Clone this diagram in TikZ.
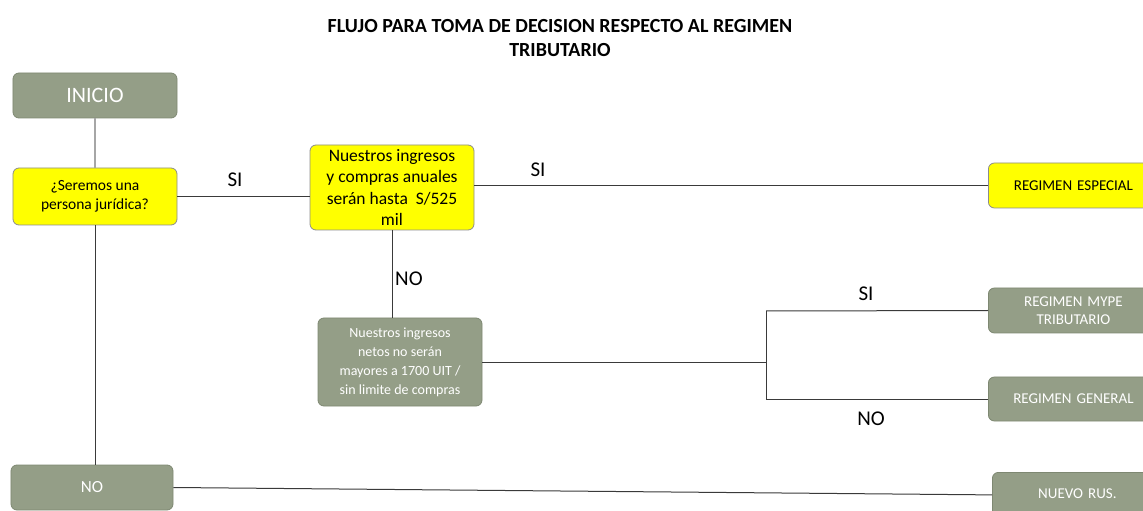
\documentclass[tikz,border=0pt]{standalone}
\usepackage{fontspec}
\setmainfont{Carlito}
\definecolor{sage}{HTML}{949E87}
\definecolor{sageborder}{HTML}{7E8872}
\definecolor{ybox}{HTML}{FFFF00}
\definecolor{ylborder}{HTML}{8C8C8C}
\definecolor{lineclr}{HTML}{3A3A3A}
\tikzset{
  greenbox/.style={draw=sageborder, fill=sage, rounded corners=6bp, line width=0.8bp, text=white, align=center, inner sep=0pt},
  yellowbox/.style={draw=ylborder, fill=ybox, rounded corners=6bp, line width=0.8bp, text=black, align=center, inner sep=0pt},
  conn/.style={draw=lineclr, line width=1bp},
  lbl/.style={font=\fontsize{21bp}{24bp}\selectfont, text=black, inner sep=0pt}
}
\begin{document}
\begin{tikzpicture}[x=1bp,y=-1bp]
\useasboundingbox (0,0) rectangle (1143,511);
\clip (0,0) rectangle (1143,511);
% title
\node[font=\bfseries\fontsize{20bp}{24bp}\selectfont, align=center] (title) at (560,38) {FLUJO PARA TOMA DE DECISION RESPECTO AL REGIMEN\\TRIBUTARIO};
% nodes
\node[greenbox, minimum width=164bp, minimum height=45bp, font=\fontsize{22bp}{24bp}\selectfont] (inicio) at (95,95.5) {INICIO};
\node[yellowbox, minimum width=164bp, minimum height=57bp, font=\fontsize{15.5bp}{18.5bp}\selectfont] (q1) at (95,196.5) {¿Seremos una\\persona jurídica?};
\node[yellowbox, minimum width=164bp, minimum height=85bp, font=\fontsize{17.5bp}{21.5bp}\selectfont] (q2) at (392,187.5) {Nuestros ingresos\\y compras anuales\\serán hasta~ S/525\\mil};
\node[greenbox, minimum width=164bp, minimum height=88bp, font=\fontsize{14bp}{19bp}\selectfont] (q3) at (400,362) {Nuestros ingresos\\netos no serán\\mayores a 1700 UIT /\\sin limite de compras};
\node[yellowbox, minimum width=170bp, minimum height=45bp, font=\fontsize{15bp}{17bp}\selectfont, anchor=west, text width=160bp] (esp) at (988,185.5) {REGIMEN ESPECIAL};
\node[greenbox, minimum width=170bp, minimum height=45bp, font=\fontsize{15bp}{17.5bp}\selectfont, anchor=west, text width=160bp] (mype) at (988,310.5) {REGIMEN MYPE\\TRIBUTARIO};
\node[greenbox, minimum width=170bp, minimum height=44bp, font=\fontsize{15bp}{17bp}\selectfont, anchor=west, text width=160bp] (gen) at (988,399) {REGIMEN GENERAL};
\node[greenbox, minimum width=162bp, minimum height=45bp, font=\fontsize{17bp}{19bp}\selectfont] (no) at (92,487.5) {NO};
\node[greenbox, minimum width=170bp, minimum height=45bp, font=\fontsize{15bp}{17bp}\selectfont, anchor=north west, text width=160bp] (rus) at (992,472) {\raisebox{2bp}{NUEVO RUS.}};
% connectors
\draw[draw=gray!70, line width=1.6bp] (inicio.south) -- (q1.north);
\draw[conn] (q1.east) -- (q2.west |- q1.east);
\draw[conn] (q2.east |- esp.west) -- (esp.west);
\draw[conn] (q2.south) -- (q2.south |- q3.north);
\coordinate (fork) at (766,363);
\coordinate (forktop) at (766,311);
\coordinate (forkbot) at (766,399);
\draw[conn] (q3.east |- fork) -- (fork);
\draw[conn] (forktop) -- (forkbot);
\draw[conn] (forktop) -- (mype.west);
\draw[conn] (forkbot) -- (gen.west);
\draw[conn] (q1.south) -- (q1.south |- no.north);
\draw[conn] (no.east) -- (rus.west);
% labels
\node[lbl] (si1) at (235,180) {SI};
\node[lbl] (si2) at (538,170) {SI};
\node[lbl, anchor=west] (no1) at (395,279) {NO};
\node[lbl] (si3) at (866,294) {SI};
\node[lbl] (no2) at (871,419) {NO};
\end{tikzpicture}
\end{document}
